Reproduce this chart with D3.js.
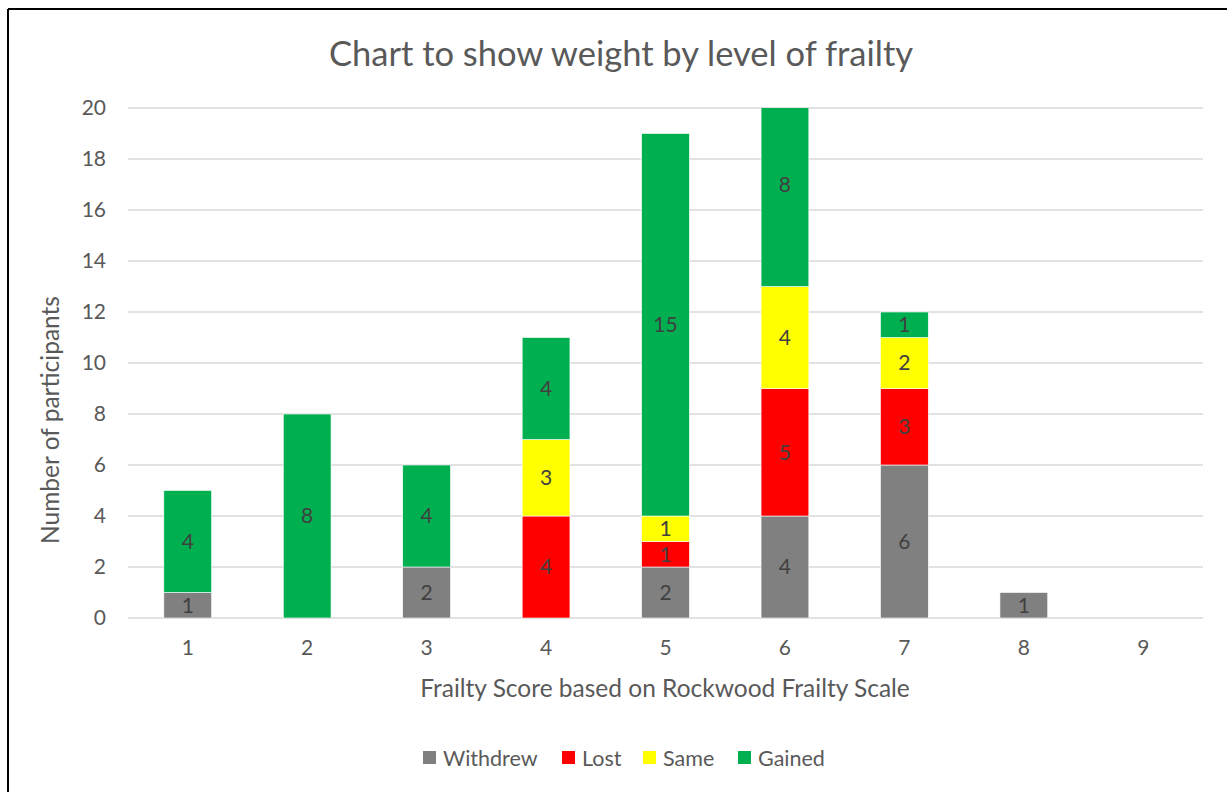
<!DOCTYPE html>
<html>
<head>
<meta charset="utf-8">
<script src="https://cdn.jsdelivr.net/npm/d3@7"></script>
<style>
  body { margin: 0; background: #fff; }
  text { font-family: Lato, "Open Sans", sans-serif; fill: #595959; }
</style>
</head>
<body>
<svg id="svg" width="1227" height="792"></svg>
<script>
// frailty score categories
var categories = ["1", "2", "3", "4", "5", "6", "7", "8", "9"];
var seriesNames = ["Withdrew", "Lost", "Same", "Gained"];
var withdrew = [1, 0, 2, 0, 2, 4, 6, 1, 0];
var lost = [0, 0, 0, 4, 1, 5, 3, 0, 0];
var same = [0, 0, 0, 3, 1, 4, 2, 0, 0];
var gained = [4, 8, 4, 4, 15, 8, 1, 0, 0];
var yTicks = [0, 2, 4, 6, 8, 10, 12, 14, 16, 18, 20];
var colors = ["#808080", "#ff0000", "#ffff00", "#00b050"];

var svg = d3.select("#svg");
var width = 1227, height = 792;
var plotLeft = 128, plotRight = 1203, plotTop = 108, plotBottom = 618;

// frame lines (left and top edge only are visible)
svg.append("line").attr("x1", 8).attr("y1", 9).attr("x2", width).attr("y2", 9)
  .attr("stroke", "#000").attr("stroke-width", 2);
svg.append("line").attr("x1", 8).attr("y1", 9).attr("x2", 8).attr("y2", height)
  .attr("stroke", "#000").attr("stroke-width", 2);

var x = d3.scaleBand().domain(categories).range([plotLeft, plotRight])
  .paddingInner(0.6).paddingOuter(0.3);
var y = d3.scaleLinear().domain([0, 20]).range([plotBottom, plotTop]);

// gridlines
svg.append("g").selectAll("line").data(yTicks).enter().append("line")
  .attr("x1", plotLeft).attr("x2", plotRight)
  .attr("y1", d => y(d)).attr("y2", d => y(d))
  .attr("stroke", "#d9d9d9").attr("stroke-width", 1.5);

// y tick labels
svg.append("g").selectAll("text").data(yTicks).enter().append("text")
  .attr("x", 106).attr("y", d => y(d)).attr("dy", "0.35em")
  .attr("text-anchor", "end").style("font-size", "21px").text(d => d);

// x tick labels
svg.append("g").selectAll("text").data(categories).enter().append("text")
  .attr("x", d => x(d) + x.bandwidth() / 2).attr("y", 648).attr("dy", "0.35em")
  .attr("text-anchor", "middle").style("font-size", "21px").text(d => d);

// stacked data
var rows = categories.map((c, i) => ({
  cat: c, Withdrew: withdrew[i], Lost: lost[i], Same: same[i], Gained: gained[i]
}));
var stack = d3.stack().keys(seriesNames)(rows);

svg.append("clipPath").attr("id", "plot").append("rect")
  .attr("x", plotLeft).attr("y", plotTop)
  .attr("width", plotRight - plotLeft).attr("height", plotBottom - plotTop);

var bars = svg.append("g").attr("clip-path", "url(#plot)");
stack.forEach((layer, k) => {
  bars.append("g").selectAll("rect").data(layer.filter(d => d[1] > d[0])).enter()
    .append("rect")
    .attr("x", d => x(d.data.cat))
    .attr("width", x.bandwidth())
    .attr("y", d => y(d[1]))
    .attr("height", d => y(d[0]) - y(d[1]))
    .attr("fill", colors[k])
    .attr("stroke", "#fff").attr("stroke-width", 0.6);
});

// data labels
stack.forEach(layer => {
  svg.append("g").selectAll("text").data(layer.filter(d => d[1] > d[0])).enter()
    .append("text")
    .attr("x", d => x(d.data.cat) + x.bandwidth() / 2)
    .attr("y", d => y((d[0] + d[1]) / 2)).attr("dy", "0.35em")
    .attr("text-anchor", "middle").style("font-size", "21px").style("fill", "#404040")
    .text(d => d[1] - d[0]);
});

// titles
svg.append("text").attr("x", 621).attr("y", 54).attr("dy", "0.35em")
  .attr("text-anchor", "middle").style("font-size", "34.5px").text("Chart to show weight by level of frailty");
svg.append("text").attr("x", 665).attr("y", 688).attr("dy", "0.35em")
  .attr("text-anchor", "middle").style("font-size", "24.5px")
  .text("Frailty Score based on Rockwood Frailty Scale");
svg.append("text").attr("transform", "translate(50,420) rotate(-90)").attr("dy", "0.35em")
  .attr("text-anchor", "middle").style("font-size", "24.5px").text("Number of participants");

// legend
var legendX = [423, 562, 643, 738];
var legend = svg.append("g").selectAll("g").data(seriesNames).enter().append("g")
  .attr("transform", (d, i) => "translate(" + legendX[i] + ",758)");
legend.append("rect").attr("x", 0).attr("y", -7).attr("width", 13).attr("height", 13)
  .attr("fill", (d, i) => colors[i]);
legend.append("text").attr("x", 20).attr("dy", "0.35em").style("font-size", "21.5px").text(d => d);
</script>
</body>
</html>
